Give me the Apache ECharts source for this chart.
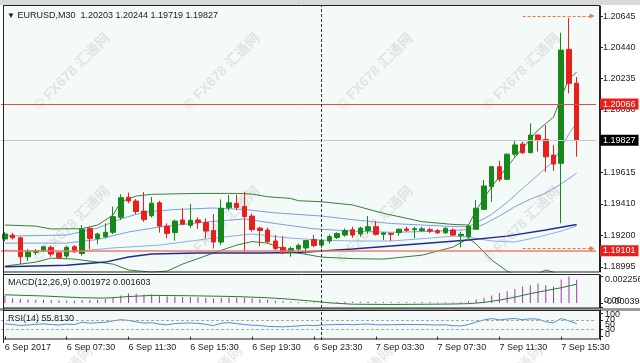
<!DOCTYPE html>
<html>
<head>
<meta charset="utf-8">
<style>
html,body{margin:0;padding:0;background:#fff;}
#chart{width:640px;height:363px;}
</style>
<script src="https://cdn.jsdelivr.net/npm/echarts@6/dist/echarts.min.js"></script>
</head>
<body>
<div id="chart"></div>
<script>
// EURUSD M30, 6 Sep 03:30 .. 7 Sep 16:30
var opens = [1.19178,1.19204,1.19186,1.19061,1.19090,1.19101,1.19123,1.19087,1.19066,1.19127,
	1.19083,1.19248,1.19182,1.19193,1.19222,1.19321,1.19453,1.19428,1.19362,1.19331,
	1.19416,1.19263,1.19220,1.19303,1.19268,1.19303,1.19286,1.19234,1.19158,1.19384,
	1.19412,1.19392,1.19329,1.19250,1.19237,1.19165,1.19123,1.19089,1.19112,1.19119,
	1.19174,1.19138,1.19165,1.19188,1.19204,1.19239,1.19211,1.19234,1.19259,1.19209,
	1.19215,1.19220,1.19244,1.19239,1.19234,1.19239,1.19232,1.19219,1.19237,1.19200,
	1.19193,1.19242,1.19373,1.19522,1.19654,1.19571,1.19736,1.19803,1.19746,1.19862,
	1.19833,1.19730,1.19676,1.20426,1.20203];
var highs = [1.19224,1.19219,1.19193,1.19112,1.19112,1.19134,1.19134,1.19094,1.19134,1.19138,
	1.19270,1.19259,1.19219,1.19281,1.19391,1.19473,1.19483,1.19441,1.19487,1.19454,
	1.19429,1.19281,1.19306,1.19379,1.19408,1.19320,1.19314,1.19342,1.19439,1.19467,
	1.19470,1.19489,1.19346,1.19259,1.19253,1.19204,1.19197,1.19127,1.19149,1.19171,
	1.19204,1.19182,1.19208,1.19222,1.19248,1.19259,1.19259,1.19329,1.19296,1.19222,
	1.19219,1.19248,1.19259,1.19259,1.19259,1.19253,1.19244,1.19256,1.19248,1.19227,
	1.19270,1.19434,1.19566,1.19658,1.19693,1.19742,1.19825,1.19818,1.19939,1.19869,
	1.19928,1.19796,1.20535,1.20632,1.20244];
var lows = [1.19164,1.19175,1.19013,1.19033,1.19072,1.19094,1.19061,1.19050,1.19050,1.19087,
	1.19068,1.19112,1.19144,1.19182,1.19211,1.19303,1.19413,1.19342,1.19291,1.19320,
	1.19220,1.19182,1.19168,1.19270,1.19253,1.19243,1.19182,1.19116,1.19138,1.19368,
	1.19368,1.19084,1.19227,1.19132,1.19149,1.19105,1.19079,1.19061,1.19092,1.19079,
	1.19125,1.19119,1.19149,1.19178,1.19193,1.19186,1.19193,1.19214,1.19201,1.19171,
	1.19165,1.19199,1.19225,1.19182,1.19224,1.19217,1.19211,1.19211,1.19197,1.19123,
	1.19182,1.19237,1.19368,1.19423,1.19555,1.19566,1.19719,1.19737,1.19742,1.19754,
	1.19619,1.19626,1.19281,1.20136,1.19719];
var closes = [1.19211,1.19186,1.19061,1.19094,1.19101,1.19127,1.19079,1.19057,1.19123,1.19094,
	1.19242,1.19182,1.19211,1.19222,1.19325,1.19450,1.19428,1.19359,1.19306,1.19414,
	1.19263,1.19215,1.19296,1.19276,1.19301,1.19286,1.19230,1.19158,1.19380,1.19416,
	1.19385,1.19326,1.19240,1.19234,1.19160,1.19116,1.19087,1.19115,1.19136,1.19168,
	1.19135,1.19168,1.19194,1.19214,1.19234,1.19204,1.19250,1.19259,1.19209,1.19218,
	1.19209,1.19242,1.19235,1.19246,1.19245,1.19230,1.19219,1.19248,1.19204,1.19209,
	1.19263,1.19380,1.19527,1.19654,1.19571,1.19736,1.19797,1.19746,1.19862,1.19829,
	1.19719,1.19671,1.20421,1.20202,1.19827];

// indicator lines: [bar, price]
var bbUpper = [[0,1.19270],[4,1.19263],[6,1.19244],[10,1.19246],[12,1.19270],[14,1.19335],[15,1.19423],[17,1.19461],[19,1.19472],[25,1.19478],[30,1.19478],[32,1.19474],[34,1.19456],[37,1.19445],[38,1.19430],[41,1.19423],[45,1.19402],[49,1.19347],[54,1.19292],[58,1.19274],[60,1.19270],[61,1.19368],[63,1.19522],[65,1.19653],[67,1.19775],[69,1.19895],[71,1.19980],[72,1.20112],[73,1.20231],[74,1.20276]];
var bbLower = [[0,1.19000],[4,1.19026],[6,1.19052],[9,1.19046],[12,1.19026],[14,1.19013],[16,1.18974],[19,1.18960],[21,1.18967],[23,1.19013],[27,1.19086],[30,1.19138],[32,1.19161],[34,1.19151],[37,1.19094],[41,1.19059],[45,1.19049],[49,1.19046],[54,1.19072],[58,1.19125],[60,1.19182],[61,1.19145],[62,1.19092],[63,1.19039],[65,1.18967],[67,1.18921],[69,1.18950],[70,1.18974],[71,1.18960],[72,1.18842],[74,1.18776]];
var blueUp = [[0,1.19197],[8,1.19204],[12,1.19250],[15,1.19310],[18,1.19355],[22,1.19372],[27,1.19382],[31,1.19372],[35,1.19350],[41,1.19329],[46,1.19300],[50,1.19280],[54,1.19270],[58,1.19260],[60,1.19259],[61,1.19285],[63,1.19340],[65,1.19420],[67,1.19510],[69,1.19600],[71,1.19690],[72,1.19780],[73,1.19870],[74,1.19941]];
var blueMid = [[0,1.19151],[8,1.19151],[12,1.19175],[16,1.19224],[20,1.19257],[26,1.19290],[31,1.19310],[35,1.19280],[40,1.19245],[45,1.19230],[50,1.19222],[55,1.19228],[60,1.19240],[62,1.19275],[64,1.19330],[66,1.19390],[68,1.19440],[70,1.19480],[72,1.19540],[74,1.19612]];
var blueLow = [[0,1.19105],[8,1.19092],[14,1.19119],[20,1.19138],[27,1.19184],[32,1.19211],[37,1.19184],[41,1.19171],[45,1.19165],[50,1.19165],[55,1.19184],[58,1.19197],[60,1.19191],[63,1.19165],[66,1.19158],[69,1.19191],[72,1.19230],[74,1.19263]];
var navyMA = [[0,1.18996],[8,1.19006],[13,1.19026],[16,1.19059],[19,1.19079],[25,1.19086],[33,1.19086],[38,1.19089],[41,1.19099],[45,1.19112],[50,1.19132],[55,1.19151],[60,1.19171],[65,1.19197],[70,1.19237],[74,1.19273]];

var macdHist = [0.00065,0.00040,0.00035,0.00030,0.00028,0.00028,0.00025,0.00022,0.00022,0.00020,
	0.00025,0.00025,0.00028,0.00032,0.00045,0.00065,0.00080,0.00078,0.00070,0.00075,
	0.00068,0.00058,0.00055,0.00052,0.00052,0.00050,0.00045,0.00038,0.00045,0.00048,
	0.00048,0.00045,0.00040,0.00035,0.00028,0.00020,0.00015,0.00010,0.00008,0.00008,
	0.00006,0.00005,0.00006,0.00008,0.00010,0.00010,0.00010,0.00012,0.00010,0.00008,
	0.00008,0.00008,0.00008,0.00008,0.00008,0.00008,0.00007,0.00008,0.00007,0.00008,
	0.00015,0.00030,0.00045,0.00065,0.00085,0.00100,0.00120,0.00140,0.00150,0.00165,
	0.00150,0.00140,0.00200,0.002256,0.001972];
var macdSignal = [[0,0.00070],[5,0.00060],[10,0.00045],[13,0.00042],[16,0.00055],[19,0.00065],[24,0.00062],[30,0.00055],[34,0.00045],[37,0.00032],[40,0.00015],[42,0.00002],[45,-0.00010],[50,-0.00012],[55,-0.00010],[58,-0.00008],[60,-0.00005],[62,0.00005],[64,0.00025],[66,0.00050],[68,0.00080],[70,0.00105],[72,0.00130],[74,0.001603]];
var rsi = [55,52,48,50,53,55,52,50,54,52,
	62,58,60,62,68,73,70,64,58,60,
	54,51,56,58,59,57,53,47,58,60,
	56,52,49,48,44,43,42,44,46,49,
	47,50,51,52,53,51,53,54,51,51,
	51,52,52,52,52,51,50,51,47,46,
	52,63,72,78,72,76,78,73,77,75,
	64,60,78,68,55.813];

var priceTicks = [1.20645,1.20440,1.20235,1.20030,1.19615,1.19410,1.19200,1.18995];
var macdTicks = [0.002256, 0, -0.000394];
var rsiTicks = [100, 70, 30, 0];
var tickBars = [0,8,16,24,32,40,48,56,64,72];
var tickLabels = ['6 Sep 2017','6 Sep 07:30','6 Sep 11:30','6 Sep 15:30','6 Sep 19:30','6 Sep 23:30','7 Sep 03:30','7 Sep 07:30','7 Sep 11:30','7 Sep 15:30'];

(function(){
	var categories = [];
	for (var i = 0; i < 77; i++) categories.push('b' + i);

	var FONT = '"Liberation Sans", Arial, sans-serif';
	var W = 595;

	function showTick(idx){ return tickBars.indexOf(idx) >= 0; }

	function xAx(grid, withLabels){
		return {
			type: 'category', gridIndex: grid, data: categories, boundaryGap: true,
			axisLine: {show: false},
			axisTick: withLabels ? {show: true, interval: showTick, alignWithLabel: true, length: 3, lineStyle: {color: '#222'}} : {show: false},
			axisLabel: withLabels ? {
				show: true, interval: showTick, align: 'left', margin: 3,
				fontSize: 9, color: '#222', fontFamily: FONT,
				formatter: function(v, idx){ return tickLabels[tickBars.indexOf(idx)] || ''; }
			} : {show: false},
			splitLine: {show: false}
		};
	}

	function wm(x, y){
		return {type: 'text', x: x, y: y, rotation: Math.PI/4, z: 1, silent: true,
			style: {text: '\u00a9 FX678 \u6c47\u901a\u7f51', fill: 'rgba(120,120,120,0.16)',
				font: 'bold 14px "Liberation Sans", "Noto Sans CJK SC"', textAlign: 'center', textVerticalAlign: 'middle'}};
	}

	// right-hand labels of the small panes (MT4 stacks them on top of each other)
	function paneLabel(text, x, y){
		return {type: 'text', x: x, y: y, z: 21, silent: true,
			style: {text: text, fill: '#222', font: '9px ' + FONT, textVerticalAlign: 'middle'}};
	}

	function lineSeries(data, color, width){
		return {type: 'line', xAxisIndex: 0, yAxisIndex: 0, data: data, symbol: 'none',
			lineStyle: {color: color, width: width || 1}, silent: true, z: 3};
	}

	var dash = [3, 2];
	var upper = lineSeries(bbUpper, '#3d7d3d');
	upper.markLine = {
		silent: true, symbol: ['none', 'none'], animation: false, precision: 5,
		label: {show: true, position: 'end', distance: 4, color: '#fff', fontSize: 9, fontFamily: FONT, padding: [1, 3, 1, 3]},
		data: [
			{yAxis: 1.20066, lineStyle: {color: '#d8524c', type: 'solid', width: 1},
				label: {formatter: '1.20066', backgroundColor: '#e8201c'}},
			{yAxis: 1.19101, lineStyle: {color: '#ee7a72', type: 'solid', width: 1.5},
				label: {formatter: '1.19101', backgroundColor: '#e8201c'}},
			{yAxis: 1.19827, lineStyle: {color: '#c6c6c6', type: 'solid', width: 1},
				label: {formatter: '1.19827', backgroundColor: '#000'}},
			[{coord: [67, 1.20645], symbol: 'none'}, {coord: [76, 1.20645], symbol: 'triangle', symbolSize: [5, 5], symbolRotate: -90,
				lineStyle: {color: '#f07838', type: dash, width: 1}, label: {show: false}}],
			[{coord: [67, 1.19116], symbol: 'none'}, {coord: [76, 1.19116], symbol: 'triangle', symbolSize: [5, 5], symbolRotate: -90,
				lineStyle: {color: '#f07838', type: dash, width: 1}, label: {show: false}}],
			{xAxis: 41, lineStyle: {color: '#333', type: dash, width: 1}, label: {show: false}}
		]
	};

	var chart = echarts.init(document.getElementById('chart'));
	var option = {
		backgroundColor: '#ffffff',
		animation: false,
		title: [
			{text: '{t|\u25bc} EURUSD,M30  1.20203 1.20244 1.19719 1.19827', left: 7, top: 11, padding: 0,
				textStyle: {fontSize: 9, fontWeight: 'normal', color: '#1a1a1a', fontFamily: FONT,
					rich: {t: {fontSize: 8, color: '#1a1a1a'}}}},
			{text: 'MACD(12,26,9) 0.001972 0.001603', left: 8, top: 278, padding: 0,
				textStyle: {fontSize: 9, fontWeight: 'normal', color: '#1a1a1a', fontFamily: FONT}},
			{text: 'RSI(14) 55.8130', left: 8, top: 314, padding: 0,
				textStyle: {fontSize: 9, fontWeight: 'normal', color: '#1a1a1a', fontFamily: FONT}}
		],
		grid: [
			{left: 1, top: 6, width: W, height: 266},
			{left: 1, top: 275, width: W, height: 33},
			{left: 1, top: 310, width: W, height: 30}
		],
		xAxis: [xAx(0, false), xAx(1, false), xAx(2, true)],
		yAxis: [
			{type: 'value', gridIndex: 0, position: 'right', offset: 4, min: 1.18961, max: 1.20711,
				axisLine: {show: true, lineStyle: {color: '#222'}},
				axisTick: {show: true, customValues: priceTicks, length: 3, lineStyle: {color: '#222'}},
				axisLabel: {customValues: priceTicks, margin: 3, fontSize: 9, color: '#222', fontFamily: FONT,
					formatter: function(v){ return v.toFixed(5); }},
				splitLine: {show: false}},
			{type: 'value', gridIndex: 1, position: 'right', offset: 4, min: -0.00042, max: 0.00238,
				axisLine: {show: true, lineStyle: {color: '#222'}},
				axisTick: {show: true, customValues: macdTicks, length: 3, lineStyle: {color: '#222'}},
				axisLabel: {show: false},
				splitLine: {show: false}},
			{type: 'value', gridIndex: 2, position: 'right', offset: 4, min: -15, max: 115,
				axisLine: {show: true, lineStyle: {color: '#222'}},
				axisTick: {show: true, customValues: rsiTicks, length: 3, lineStyle: {color: '#222'}},
				axisLabel: {show: false},
				splitLine: {show: false}}
		],
		graphic: [
			{type: 'rect', z: -10, shape: {x: 0, y: 0, width: 640, height: 5}, style: {fill: '#d9d9d9'}},
			{type: 'rect', z: -10, shape: {x: 3, y: 6, width: 597, height: 266}, style: {fill: '#f4faf7'}},
			{type: 'rect', z: -10, shape: {x: 3, y: 274, width: 597, height: 34}, style: {fill: '#f4faf7'}},
			{type: 'rect', z: -10, shape: {x: 0, y: 308, width: 640, height: 3}, style: {fill: '#9c9c9c'}},
			{type: 'rect', z: -10, shape: {x: 3, y: 311, width: 597, height: 28}, style: {fill: '#f4faf7'}},
			{type: 'rect', z: 20, silent: true, shape: {x: 3.5, y: 5.5, width: 596, height: 266.5}, style: {fill: 'none', stroke: '#222', lineWidth: 1}},
			{type: 'rect', z: 20, silent: true, shape: {x: 3.5, y: 274.5, width: 596, height: 33.5}, style: {fill: 'none', stroke: '#222', lineWidth: 1}},
			{type: 'rect', z: 20, silent: true, shape: {x: 3.5, y: 310.5, width: 596, height: 28.5}, style: {fill: 'none', stroke: '#222', lineWidth: 1}},
			{type: 'line', z: 20, silent: true, shape: {x1: 3.5, y1: 5, x2: 3.5, y2: 343}, style: {stroke: '#222', lineWidth: 1}},
			paneLabel('0.002256', 605, 280),
			paneLabel('-0.000394', 604, 302),
			paneLabel('0.00', 604, 301),
			paneLabel('100', 605, 315),
			paneLabel('70', 605, 320),
			paneLabel('50', 605, 325),
			paneLabel('30', 605, 330),
			paneLabel('0', 605, 335),
			wm(72, 72), wm(222, 72), wm(375, 72), wm(522, 72),
			wm(72, 225), wm(222, 225), wm(375, 225), wm(522, 225),
			wm(55, 385), wm(205, 385), wm(355, 385), wm(505, 385)
		],
		series: [
			{
				type: 'candlestick', xAxisIndex: 0, yAxisIndex: 0, z: 4,
				barWidth: 5,
				data: opens.map(function(o, i){ return [o, closes[i], lows[i], highs[i]]; }),
				itemStyle: {color: '#17891b', color0: '#e8201c', borderColor: '#17891b', borderColor0: '#e8201c', borderWidth: 1}
			},
			upper,
			lineSeries(bbLower, '#3d7d3d'),
			lineSeries(blueUp, '#7e9fe0'),
			lineSeries(blueMid, '#7e9fe0'),
			lineSeries(blueLow, '#8db0ea'),
			lineSeries(navyMA, '#1f2c8f', 1.5),
			{
				type: 'bar', xAxisIndex: 1, yAxisIndex: 1, data: macdHist, barWidth: 1,
				itemStyle: {color: '#a43aa8'}, silent: true,
				markLine: {silent: true, symbol: ['none', 'none'], label: {show: false},
					data: [{xAxis: 41, lineStyle: {color: '#333', type: dash, width: 1}}]}
			},
			{
				type: 'line', xAxisIndex: 1, yAxisIndex: 1, data: macdSignal, symbol: 'none',
				lineStyle: {color: '#2e7a2e', width: 1}, silent: true
			},
			{
				type: 'line', xAxisIndex: 2, yAxisIndex: 2, data: rsi, symbol: 'none',
				lineStyle: {color: '#4d8fd2', width: 1}, silent: true,
				markLine: {silent: true, symbol: ['none', 'none'], label: {show: false},
					data: [
						{yAxis: 70, lineStyle: {color: '#a8a8a8', type: dash, width: 1}},
						{yAxis: 30, lineStyle: {color: '#a8a8a8', type: dash, width: 1}},
						{xAxis: 41, lineStyle: {color: '#333', type: dash, width: 1}}
					]}
			}
		]
	};
	chart.setOption(option);
})();
</script>
</body>
</html>
